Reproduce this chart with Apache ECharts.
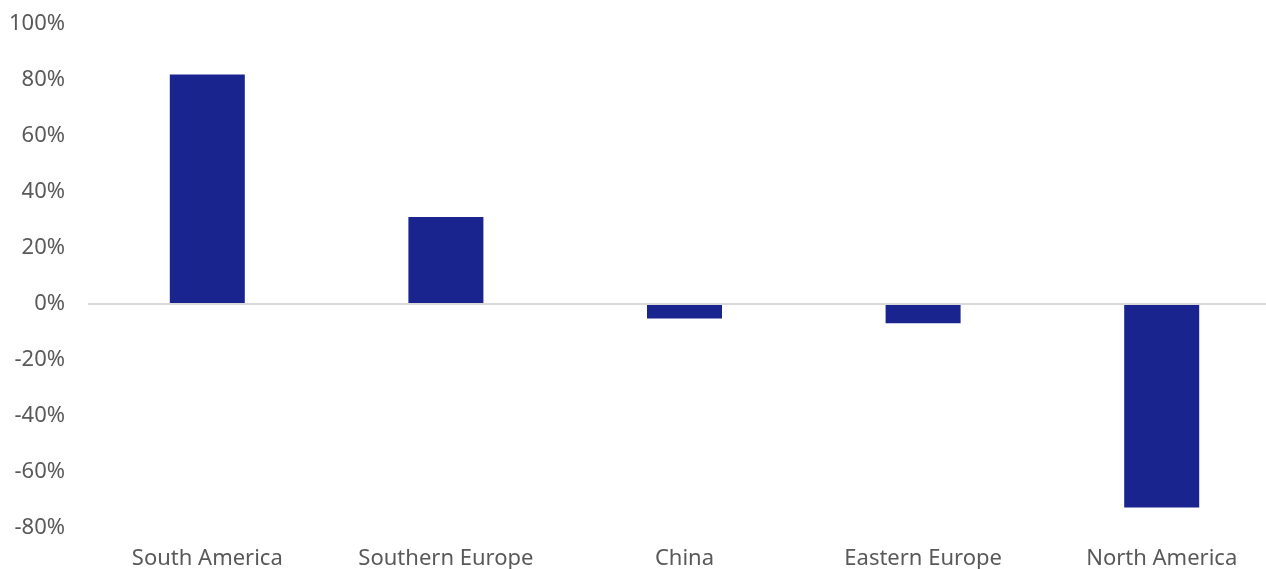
<!DOCTYPE html>
<html>
<head>
<meta charset="utf-8">
<script src="https://cdn.jsdelivr.net/npm/echarts@6/dist/echarts.min.js"></script>
<style>
  html, body { margin: 0; padding: 0; background: #fff; overflow: hidden; }
  #chart { width: 1266px; height: 569px; }
</style>
</head>
<body>
<div id="chart"></div>
<script>
// Regional change, as a share
const regions = ['South America', 'Southern Europe', 'China', 'Eastern Europe', 'North America'];
const changes = [0.82, 0.311, -0.052, -0.069, -0.727];

const yMin = -0.8;
const yMax = 1.0;
const yStep = 0.2;

const chart = echarts.init(document.getElementById('chart'));
const labelFont = { fontFamily: 'Noto Sans', fontSize: 22, color: '#595959' };

chart.setOption({
  animation: false,
  // the plot runs slightly past the right edge of the canvas
  grid: { left: 88, width: 1193, top: 24, height: 504, containLabel: false, outerBoundsMode: 'none' },
  xAxis: {
    type: 'category',
    data: regions,
    axisLine: { show: false, onZero: false },
    axisTick: { show: false },
    axisLabel: Object.assign({ margin: 20, interval: 0 }, labelFont)
  },
  yAxis: {
    type: 'value',
    min: yMin,
    max: yMax,
    interval: yStep,
    axisLine: { show: false },
    axisTick: { show: false },
    splitLine: { show: false },
    axisLabel: Object.assign({
      margin: 23,
      formatter: v => Math.round(v * 100) + '%'
    }, labelFont)
  },
  series: [{
    type: 'bar',
    data: changes,
    barWidth: 75,
    itemStyle: { color: '#19248F' },
    markLine: {
      silent: true,
      symbol: 'none',
      label: { show: false },
      lineStyle: { color: '#d9d9d9', width: 2, type: 'solid' },
      data: [{ yAxis: 0 }]
    },
    z: 3
  }]
});
</script>
</body>
</html>
